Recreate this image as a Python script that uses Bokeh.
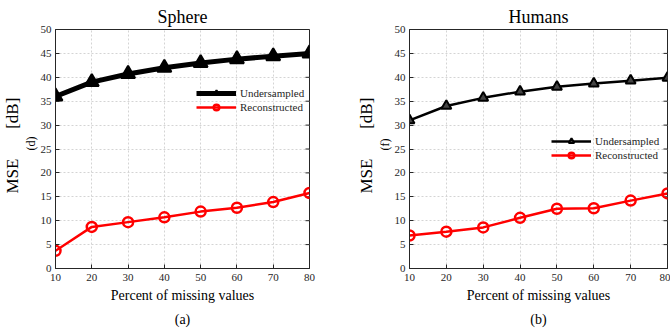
from bokeh.plotting import figure
from bokeh.models import Legend, LegendItem, Range1d, FixedTicker, Title
from bokeh.layouts import row
from bokeh.embed import file_html
from bokeh.resources import INLINE

missing = [10, 20, 30, 40, 50, 60, 70, 80]
sphere_under = [36.0, 39.0, 40.7, 42.0, 43.0, 43.8, 44.4, 45.0]
sphere_recon = [3.7, 8.7, 9.7, 10.7, 11.9, 12.7, 13.9, 15.8]
humans_under = [31.0, 34.0, 35.7, 37.0, 38.0, 38.7, 39.3, 39.9]
humans_recon = [6.9, 7.7, 8.6, 10.6, 12.5, 12.6, 14.2, 15.7]
y_ticks = [0, 5, 10, 15, 20, 25, 30, 35, 40, 45, 50]

FONT = "Liberation Serif"
AX = "#262626"
GAP = "\u2003\u2002\u00a0"


def make_panel(title, sub, tag, under, recon, under_w, tri_size, border_left, border_right, legend_loc):
    p = figure(width=335, height=332, output_backend="svg", toolbar_location=None,
               x_range=Range1d(missing[0], missing[-1]), y_range=Range1d(y_ticks[0], y_ticks[-1]),
               min_border_left=border_left, min_border_right=border_right,
               min_border_top=29, min_border_bottom=64)
    p.outline_line_color = AX
    p.outline_line_width = 1
    p.background_fill_color = "white"
    p.border_fill_color = "white"

    # title
    p.title.text = title
    p.title.align = "center"
    p.title.text_font = FONT
    p.title.text_font_size = "18px"
    p.title.text_font_style = "normal"
    p.title.text_color = "black"
    p.title.standoff = 6

    for ax in (p.xaxis[0], p.yaxis[0]):
        ax.axis_line_color = AX
        ax.major_tick_in = 4
        ax.major_tick_out = 0
        ax.minor_tick_line_color = None
        ax.major_tick_line_color = AX
        ax.major_label_text_font = FONT
        ax.major_label_text_font_size = "11px"
        ax.major_label_text_color = AX
    p.xaxis.ticker = FixedTicker(ticks=missing)
    p.yaxis.ticker = FixedTicker(ticks=y_ticks)
    p.xaxis.major_label_standoff = 5
    p.yaxis.major_label_standoff = 4
    p.xaxis.axis_label = "Percent of missing values"
    p.xaxis.axis_label_text_font = FONT
    p.xaxis.axis_label_text_font_size = "14px"
    p.xaxis.axis_label_text_font_style = "normal"
    p.xaxis.axis_label_text_color = "black"
    p.xaxis.axis_label_standoff = 4

    for g in (p.xgrid[0], p.ygrid[0]):
        g.grid_line_color = "#d4d4d4"
        g.grid_line_dash = "2 2"
        g.grid_line_width = 1
    p.xgrid.ticker = FixedTicker(ticks=missing)
    p.ygrid.ticker = FixedTicker(ticks=y_ticks)

    # inward tick marks on the right edge of the box (half of each dash is clipped by the frame)
    p.scatter([missing[-1]] * len(y_ticks), y_ticks, marker="dash", size=8,
              line_color=AX, line_width=1)

    l1 = p.line(missing, under, line_color="black", line_width=under_w)
    m1 = p.scatter(missing, under, marker="triangle", size=tri_size, line_color="black",
                   fill_color="#444444" if under_w < 4 else "black", line_width=2)
    l2 = p.line(missing, recon, line_color="#ff0000", line_width=2.5)
    m2 = p.scatter(missing, recon, marker="circle", size=10, line_color="#ff0000",
                   fill_color=None, line_width=2.5)

    legend = Legend(items=[LegendItem(label="Undersampled", renderers=[l1, m1]),
                           LegendItem(label="Reconstructed", renderers=[l2, m2])],
                    location=legend_loc, padding=0, margin=0, spacing=0,
                    glyph_width=40, glyph_height=14, label_height=14,
                    label_standoff=4, border_line_color=None,
                    background_fill_alpha=0,
                    label_text_font=FONT, label_text_font_size="11px",
                    label_text_color="#262626")
    p.add_layout(legend, "center")

    # panel tag below
    p.add_layout(Title(text=tag, align="center", text_font=FONT, text_font_size="14px",
                       text_font_style="normal", text_color="black", standoff=8), "below")

    # y label: subscript column (nearest the axis) then main text column
    p.add_layout(Title(text=sub, align="left", offset=118, text_font=FONT,
                       text_font_size="12px", text_font_style="normal",
                       text_color="black", standoff=0), "left")
    p.add_layout(Title(text="MSE" + GAP + "[dB]", align="left", offset=75, text_font=FONT,
                       text_font_size="17px", text_font_style="normal",
                       text_color="black", standoff=0), "left")
    return p


p1 = make_panel("Sphere", "(d)", "(a)", sphere_under, sphere_recon, 5, 14,
                52, 26, (141, 154))
p2 = make_panel("Humans", "(f)", "(b)", humans_under, humans_recon, 2.5, 10,
                74, 3, (142, 106))

layout = row(p1, p2, spacing=0)
open("out.html", "w").write(file_html(layout, INLINE))
